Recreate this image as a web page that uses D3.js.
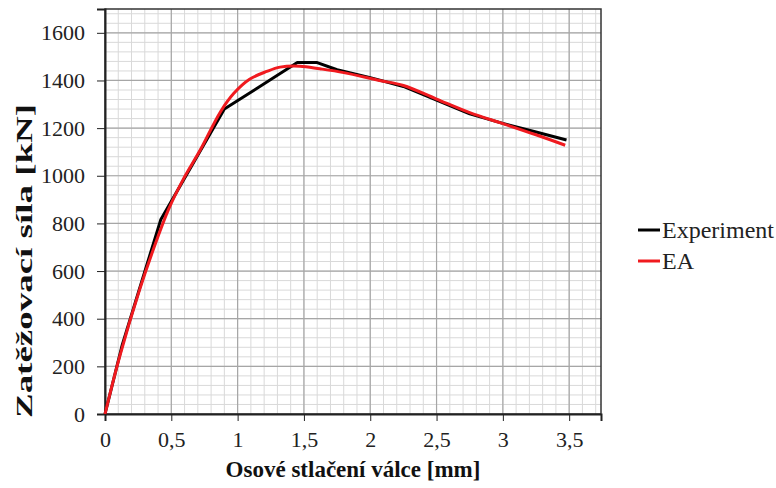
<!DOCTYPE html>
<meta charset="utf-8">
<style>
  body { margin: 0; background: #fff; }
  svg { display: block; }
  .axis text { font-family: "Liberation Serif", "Times New Roman", serif; font-size: 22px; fill: #222; }
  .axis path, .axis line { stroke: #222; }
  .title { font-family: "Liberation Serif", "Times New Roman", serif; font-size: 23px; font-weight: bold; fill: #111; }
  .legend text { font-family: "Liberation Serif", "Times New Roman", serif; font-size: 24px; fill: #222; }
</style>
<body>
<svg width="776" height="488"></svg>
<script src="https://cdn.jsdelivr.net/npm/d3@7"></script>
<script>
// data
var expX = [0, 0.13, 0.42, 0.9, 1.45, 1.6, 1.75, 2.0, 2.25, 2.5, 2.75, 3.0, 3.25, 3.48];
var expY = [0, 290, 815, 1280, 1475, 1475, 1445, 1412, 1375, 1318, 1260, 1220, 1184, 1150];

var eaX = [0, 0.11, 0.26, 0.39, 0.48, 0.59, 0.72, 0.87, 0.97, 1.09, 1.22, 1.32, 1.47, 1.62, 1.8, 2.07, 2.25, 2.5, 2.75, 3.0, 3.25, 3.47];
var eaY = [0, 240, 520, 730, 860, 985, 1110, 1268, 1345, 1405, 1438, 1456, 1460, 1449, 1433, 1400, 1379, 1322, 1265, 1219, 1172, 1128];

var xTicks = [0, 0.5, 1, 1.5, 2, 2.5, 3, 3.5];
var yTicks = [0, 200, 400, 600, 800, 1000, 1200, 1400, 1600];
var seriesNames = ["Experiment", "EA"];
var seriesColors = ["#000000", "#f01a1f"];

var margin = {top: 9, left: 105},
    width = 496, height = 405;

var x = d3.scaleLinear().domain([0, 3.74]).range([0, width]);
var y = d3.scaleLinear().domain([0, 1700]).range([height, 0]);

var svg = d3.select("svg");
var g = svg.append("g").attr("transform", "translate(" + margin.left + "," + margin.top + ")");

// minor grid
g.selectAll(".vminor").data(d3.range(0.1, 3.74, 0.1)).enter().append("line")
  .attr("x1", d => x(d)).attr("x2", d => x(d)).attr("y1", 0).attr("y2", height)
  .attr("stroke", "#d9d9d9").attr("stroke-width", 1);
g.selectAll(".hminor").data(d3.range(40, 1700, 40)).enter().append("line")
  .attr("y1", d => y(d)).attr("y2", d => y(d)).attr("x1", 0).attr("x2", width)
  .attr("stroke", "#d9d9d9").attr("stroke-width", 1);
// major grid
g.selectAll(".vmajor").data(xTicks.slice(1)).enter().append("line")
  .attr("x1", d => x(d)).attr("x2", d => x(d)).attr("y1", 0).attr("y2", height)
  .attr("stroke", "#a6a6a6").attr("stroke-width", 1.2);
g.selectAll(".hmajor").data(yTicks.slice(1)).enter().append("line")
  .attr("y1", d => y(d)).attr("y2", d => y(d)).attr("x1", 0).attr("x2", width)
  .attr("stroke", "#a6a6a6").attr("stroke-width", 1.2);

// plot border
g.append("rect").attr("width", width).attr("height", height)
  .attr("fill", "none").attr("stroke", "#333").attr("stroke-width", 1.5);

var fmt = d => String(d).replace(".", ",");

g.append("g").attr("class", "axis")
  .attr("transform", "translate(0," + height + ")")
  .call(d3.axisBottom(x).tickValues(xTicks).tickFormat(fmt).tickSize(7).tickPadding(10))
  .call(a => a.select(".domain").attr("stroke-width", 2));

g.append("g").attr("class", "axis")
  .call(d3.axisLeft(y).tickValues(yTicks).tickFormat(fmt).tickSize(8).tickPadding(12))
  .call(a => a.select(".domain").attr("stroke-width", 2));

// lines
var line = d3.line().x(d => x(d[0])).y(d => y(d[1]));
var expData = d3.zip(expX, expY);
var eaData = d3.zip(eaX, eaY);

g.append("path").datum(expData)
  .attr("d", line)
  .attr("fill", "none").attr("stroke", seriesColors[0]).attr("stroke-width", 3)
  .attr("stroke-linejoin", "round");

g.append("path").datum(eaData)
  .attr("d", line.curve(d3.curveCatmullRom))
  .attr("fill", "none").attr("stroke", seriesColors[1]).attr("stroke-width", 3)
  .attr("stroke-linejoin", "round");

// titles
svg.append("text").attr("class", "title")
  .attr("x", margin.left + width / 2).attr("y", 477)
  .attr("text-anchor", "middle")
  .text("Osové stlačení válce [mm]");

svg.append("text").attr("class", "title")
  .attr("transform", "translate(32,261) rotate(-90)")
  .attr("text-anchor", "middle")
  .style("font-size", "24px")
  .attr("textLength", 314).attr("lengthAdjust", "spacingAndGlyphs")
  .text("Zatěžovací síla [kN]");

// legend
var legend = svg.append("g").attr("class", "legend");
seriesNames.forEach(function(name, i) {
  var ly = 230 + i * 31;
  legend.append("line")
    .attr("x1", 638).attr("x2", 660).attr("y1", ly).attr("y2", ly)
    .attr("stroke", seriesColors[i]).attr("stroke-width", 3);
  legend.append("text")
    .attr("x", 662).attr("y", ly).attr("dy", "0.35em")
    .text(name);
});
</script>
</body>
